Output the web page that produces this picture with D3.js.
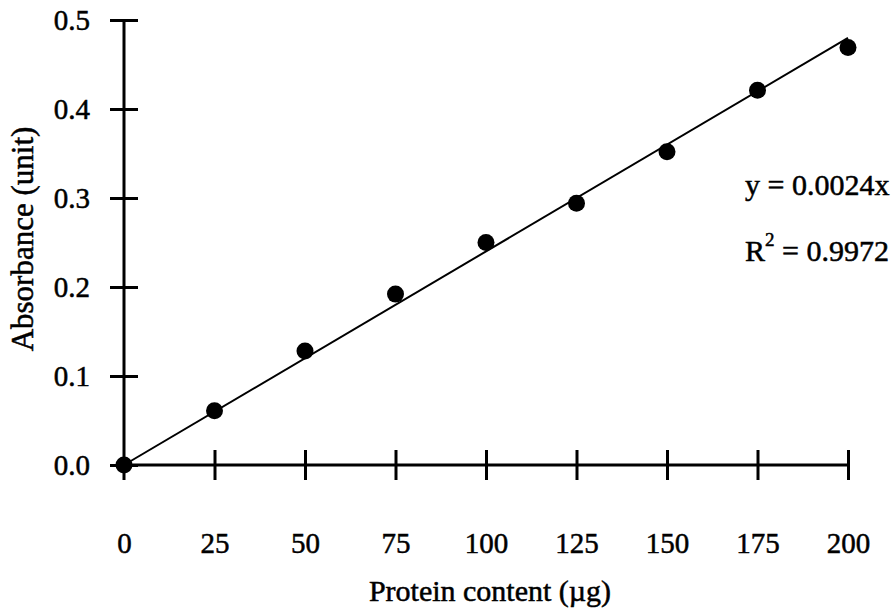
<!DOCTYPE html>
<html>
<head>
<meta charset="utf-8">
<script src="https://cdn.jsdelivr.net/npm/d3@7"></script>
<style>
  body { margin: 0; background: #fff; }
  svg text { font-family: "Liberation Serif", "Times New Roman", serif; fill: #000; stroke: #000; stroke-width: 0.5px; }
</style>
</head>
<body>
<div id="chart"></div>
<script>
(function() {
  var protein = [0, 25, 50, 75, 100, 125, 150, 175, 200];
  var absorbance = [0, 0.061, 0.128, 0.192, 0.250, 0.294, 0.352, 0.421, 0.469];
  var xTicks = [0, 25, 50, 75, 100, 125, 150, 175, 200];
  var yTicks = [0, 0.1, 0.2, 0.3, 0.4, 0.5];
  var slope = 0.0024;
  var equation = 'y = 0.0024x';
  var rSquared = '0.9972';

  var serif = '"Liberation Serif", "Times New Roman", serif';

  var svg = d3.select('#chart')
            .append('svg')
            .attr('width', 896)
            .attr('height', 612);

  var x = d3.scaleLinear().domain([0, 200]).range([124, 848]);
  var y = d3.scaleLinear().domain([0, 0.5]).range([465, 20]);

  // y axis, ticks cross the line
  var yAxis = svg.append('g')
    .attr('transform', 'translate(' + x(0) + ',0)')
    .call(d3.axisLeft(y).tickValues(yTicks).tickSize(14).tickPadding(20)
      .tickFormat(d3.format('.1f')));
  yAxis.attr('font-family', serif);
  yAxis.select('.domain').remove();
  yAxis.selectAll('.tick line').attr('x2', -14).attr('x1', 14)
    .attr('stroke', '#000').attr('stroke-width', 3);
  yAxis.selectAll('.tick text').attr('font-size', 29)
    .attr('x', -34).attr('dy', '0.32em');
  yAxis.append('line')
    .attr('x1', 0).attr('x2', 0)
    .attr('y1', y(0.5)).attr('y2', y(0) + 15)
    .attr('stroke', '#000').attr('stroke-width', 3);

  // x axis
  var xAxis = svg.append('g')
    .attr('transform', 'translate(0,' + y(0) + ')')
    .call(d3.axisBottom(x).tickValues(xTicks).tickSize(15).tickPadding(20));
  xAxis.attr('font-family', serif);
  xAxis.select('.domain').remove();
  xAxis.selectAll('.tick line').attr('y1', -15).attr('y2', 15)
    .attr('stroke', '#000').attr('stroke-width', 3)
    .filter(function(d) { return d === 0; }).remove();
  xAxis.selectAll('.tick text').attr('font-size', 29)
    .attr('y', 88).attr('dy', 0);
  xAxis.append('line')
    .attr('x1', x(0)).attr('x2', x(200))
    .attr('y1', 0).attr('y2', 0)
    .attr('stroke', '#000').attr('stroke-width', 3);

  // fitted line
  svg.append('line')
    .attr('x1', x(0)).attr('y1', y(0))
    .attr('x2', x(200)).attr('y2', y(slope * 200))
    .attr('stroke', '#000').attr('stroke-width', 2);

  svg.selectAll('circle.pt')
    .data(protein)
    .enter().append('circle')
    .attr('class', 'pt')
    .attr('cx', function(d) { return x(d); })
    .attr('cy', function(d, i) { return y(absorbance[i]); })
    .attr('r', 8.5)
    .attr('fill', '#000');

  svg.append('text')
    .attr('x', 490).attr('y', 601)
    .attr('text-anchor', 'middle')
    .attr('font-size', 30)
    .text('Protein content (\u00b5g)');

  svg.append('text')
    .attr('transform', 'translate(33,239) rotate(-90)')
    .attr('text-anchor', 'middle')
    .attr('font-size', 31)
    .text('Absorbance (unit)');

  svg.append('text')
    .attr('x', 745).attr('y', 195)
    .attr('font-size', 30)
    .text(equation);

  var r2 = svg.append('text')
    .attr('x', 745).attr('y', 261)
    .attr('font-size', 30);
  r2.append('tspan').text('R');
  r2.append('tspan').attr('dy', -15).attr('font-size', 19).text('2');
  r2.append('tspan').attr('dy', 15).text(' = ' + rSquared);
}());
</script>
</body>
</html>
